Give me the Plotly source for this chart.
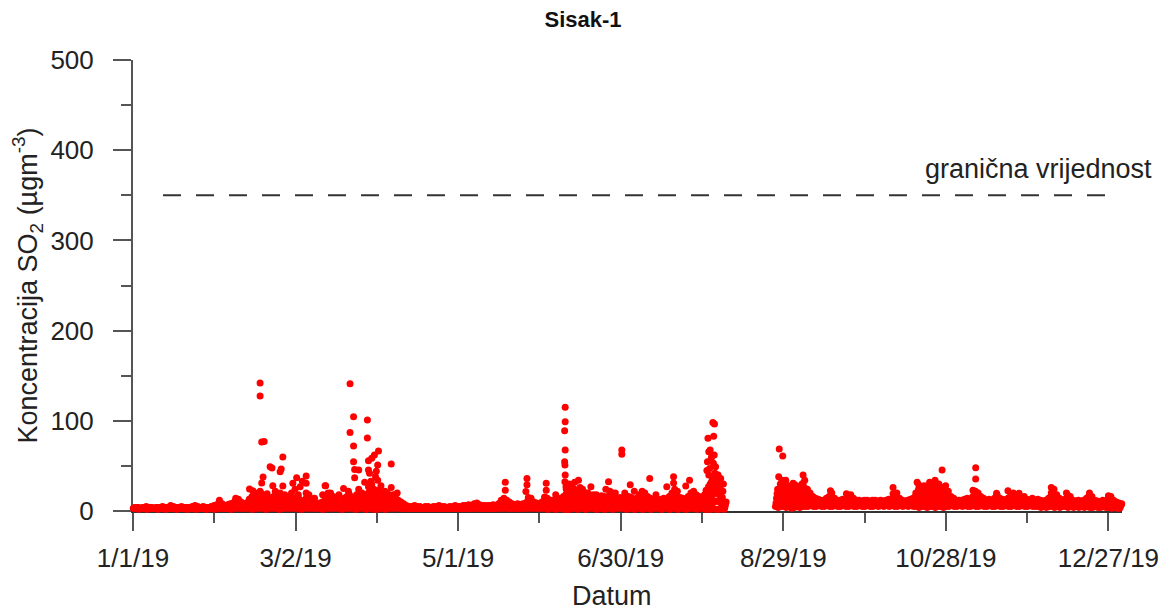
import plotly.graph_objects as go
import pandas as pd

start_date = "2019-01-01"

# daily spread of hourly SO2 values (ug/m3): one entry per day of 2019, None = no data
so2_low = [
    3,3,2,3,3,2,3,3,3,2, 3,3,2,3,3,3,2,3,3,3, 2,3,3,2,3,3,3,2,3,3, 2,
    3,3,3,3,3,2,3,3,3,3, 3,3,3,2,3,3,3,3,2,3, 3,3,3,2,3,3,3,3,
    3,3,3,2,3,3,3,3,3,3, 3,2,3,3,3,3,3,3,2,3, 3,3,3,2,3,3,3,2,3,3, 2,
    2,3,3,2,3,3,3,3,3,3, 3,3,3,3,3,3,3,3,3,3, 3,3,3,3,3,3,3,3,3,3,
    3,3,3,3,3,3,3,3,3,3, 3,3,3,3,3,3,3,3,3,3, 3,3,3,3,3,3,3,3,3,3, 3,
    3,3,2,3,3,2,3,3,2,2, 2,3,3,2,3,3,2,3,3,3, 2,3,3,2,3,3,2,3,3,3,
    3,2,3,3,2,3,3,2,3,3, 2,3,3,3,2,3,3,2,3,3, 2,3,3,2,3,3,3,2,3,3, 2,
    2,2,3,2,2,3,2, None,None,None,None,None,None,None,None,None,None,None,None,None,None,None,None,None,None, 5,4,5,5,4,5,
    3,4,5,4,5,5,5,6,5,5, 6,5,5,6,5,5,6,5,5,6, 5,5,6,5,5,6,5,5,6,5,
    5,6,5,6,5,6,5,6,5,5, 6,5,6,5,6,5,5,4,5,5, 4,5,5,4,5,5,4,5,5,6, 5,
    5,6,5,6,5,5,6,5,5,6, 5,5,6,5,5,6,5,5,6,5, 5,6,5,5,6,5,5,6,5,5,
    5,4,5,4,5,5,4,5,4,5, 5,4,5,4,5,4,5,4,5,4, 4,5,4,4,5,4,4,3,4,3, 3,
]
so2_lower = [
    3,3,3,3,3,3,3,3,3,3, 3,3,3,3,3,3,3,3,3,3, 3,3,3,3,3,3,3,3,3,3, 3,
    4,3,3,3,3,4,5,5,4,3, 4,5,5,6,6,7,6,5,4,5, 5,4,5,5,4,5,5,4,
    5,5,4,4,5,6,5,4,3,4, 4,4,5,6,5,4,4,4,5,5, 6,5,5,5,5,5,6,6,7,7, 7,
    7,6,6,6,5,5,6,4,4,3, 3,3,3,3,3,3,3,3,3,3, 3,3,3,3,3,3,3,3,3,3,
    3,3,3,3,3,3,4,3,3,3, 3,3,3,3,3,4,5,4,4,3, 3,3,3,3,4,5,5,4,4,3, 4,
    5,5,4,4,4,4,5,5,7,8, 8,7,6,7,7,6,6,5,6,5, 5,6,5,5,6,6,5,5,5,5,
    5,5,5,4,5,6,7,6,5,5, 4,5,4,4,5,4,5,6,7,7, 5,5,4,5,6,7,6,5,5,6, 6,
    7,9,10,11,10,8,3, None,None,None,None,None,None,None,None,None,None,None,None,None,None,None,None,None,None, 9,10,11,11,9,9,
    9,9,9,10,11,8,8,7,7,7, 7,6,7,8,8,7,7,6,7,7, 7,7,7,6,6,7,6,6,7,6,
    6,7,6,7,6,7,6,7,8,7, 7,6,7,7,7,8,9,9,8,9, 10,10,11,10,10,9,10,9,7,7, 6,
    6,7,6,7,6,7,9,8,7,7, 6,6,7,7,7,7,6,6,7,7, 8,8,7,6,8,6,6,7,6,6,
    6,5,6,6,8,9,7,7,6,6, 7,6,6,5,6,5,6,6,7,6, 6,6,5,6,6,6,7,6,5,4, 4,
]
so2_mid = [
    3,3,3,3,3,3,3,3,3,3, 3,3,3,4,3,3,3,3,3,3, 3,3,4,3,3,3,3,3,3,3, 4,
    5,4,3,4,4,5,7,7,5,4, 5,7,8,9,10,11,9,8,6,7, 8,6,7,8,6,7,8,6,
    7,8,6,5,7,9,7,5,4,5, 5,6,8,10,8,6,5,6,7,8, 9,8,7,8,7,7,9,10,11,12, 11,
    11,10,9,10,8,7,9,6,5,4, 3,3,3,3,3,3,3,3,3,3, 3,3,3,3,3,3,3,3,3,3,
    3,3,3,4,3,4,5,4,3,3, 3,3,4,3,4,6,7,6,5,4, 4,4,4,4,5,7,7,5,5,4, 5,
    7,7,6,6,6,6,7,8,12,14, 13,12,10,11,12,9,10,8,9,7, 8,9,8,7,9,10,8,7,8,7,
    7,8,7,6,7,9,11,10,8,7, 6,7,6,6,7,6,8,10,12,11, 7,7,6,8,10,11,9,8,7,9, 10,
    13,16,19,20,18,15,5, None,None,None,None,None,None,None,None,None,None,None,None,None,None,None,None,None,None, 14,16,17,18,15,14,
    15,14,13,15,17,12,11,10,9,9, 8,8,9,10,11,9,8,8,9,8, 9,10,9,8,8,8,8,8,8,8,
    8,8,8,8,8,9,8,9,11,9, 8,8,8,9,9,12,14,13,11,13, 15,16,17,16,15,14,16,13,10,9, 8,
    8,8,8,9,8,10,12,11,10,9, 8,8,8,9,10,9,8,8,9,10, 11,10,9,8,10,8,8,9,8,8,
    8,7,8,9,11,13,10,9,8,8, 10,9,8,7,8,7,8,9,10,9, 8,7,7,8,7,8,9,8,7,6, 6,
]
so2_upper = [
    4,4,3,4,4,4,4,3,4,4, 4,4,4,5,4,4,4,4,4,4, 4,4,5,4,4,4,4,4,4,5, 5,
    9,6,5,6,6,7,11,10,8,6, 7,10,12,14,15,17,14,12,9,11, 12,9,10,12,9,11,12,9,
    11,12,9,8,11,14,10,8,6,7, 8,9,13,15,12,9,8,9,11,12, 14,12,11,12,10,11,14,15,17,18, 17,
    17,15,14,15,12,11,14,9,8,6, 5,4,4,5,4,4,4,4,4,4, 4,4,5,4,4,4,4,4,5,4,
    4,5,5,5,5,6,7,5,5,5, 5,5,5,5,6,9,10,9,8,6, 5,6,5,6,7,11,10,8,7,6, 8,
    11,10,9,9,8,9,10,12,18,21, 20,18,15,16,18,13,15,12,13,10, 11,13,12,10,13,15,12,10,11,10,
    10,12,11,10,10,13,16,15,12,10, 10,10,9,10,10,9,12,15,18,16, 11,10,10,12,15,16,13,12,10,13, 15,
    20,24,28,30,27,22,8, None,None,None,None,None,None,None,None,None,None,None,None,None,None,None,None,None,None, 19,23,25,26,22,20,
    23,21,20,23,26,18,16,13,12,11, 10,10,12,13,16,12,10,10,11,10, 12,14,12,10,10,10,10,10,10,10,
    10,10,10,10,10,11,10,13,16,12, 10,10,10,11,12,16,19,18,15,18, 21,22,24,22,21,19,22,18,13,12, 10,
    10,10,11,12,10,13,17,16,13,12, 10,11,10,12,14,12,11,10,12,14, 16,13,12,10,13,11,10,12,10,11,
    10,9,10,12,16,19,14,12,10,11, 14,13,10,9,10,9,10,12,14,13, 10,9,9,10,9,12,13,10,9,8, 7,
]
so2_high = [
    4,4,3,4,5,4,4,3,4,4, 5,4,4,6,5,4,4,5,4,4, 4,5,6,5,4,5,4,4,5,6, 7,
    12,8,6,7,8,9,14,13,10,8, 9,13,16,18,20,22,18,15,12,14, 16,12,13,15,12,14,16,12,
    14,16,12,10,14,18,13,10,8,9, 10,12,17,20,16,12,10,11,14,16, 18,15,14,16,13,14,18,20,22,24, 22,
    22,20,18,20,16,14,18,12,10,8, 6,5,5,6,5,5,4,5,5,4, 5,5,6,5,5,4,5,5,6,5,
    5,6,6,7,6,8,9,7,6,6, 6,6,7,6,8,12,14,12,10,8, 7,8,7,8,9,15,14,10,9,8, 10,
    15,14,12,12,11,12,14,16,24,28, 26,24,20,22,24,18,20,16,18,14, 15,17,16,14,18,20,16,14,15,13,
    14,16,15,13,14,18,22,20,16,14, 13,14,12,13,14,12,16,20,24,22, 15,14,13,16,20,22,18,16,14,18, 20,
    26,32,38,40,36,30,10, None,None,None,None,None,None,None,None,None,None,None,None,None,None,None,None,None,None, 24,30,32,34,28,26,
    30,28,26,30,34,24,20,16,14,13, 12,12,14,16,20,14,12,12,13,12, 14,18,14,12,12,11,12,12,11,12,
    12,11,12,11,12,13,12,16,20,14, 12,11,12,13,14,20,24,22,18,22, 26,28,30,28,26,24,28,22,16,14, 12,
    12,12,13,14,12,16,22,20,16,14, 12,13,12,14,18,14,13,12,14,18, 20,16,14,12,16,13,12,14,12,13,
    12,11,12,14,20,24,18,14,12,13, 18,16,12,11,12,11,12,14,18,16, 12,11,10,12,11,14,16,12,10,9, 8,
]

# individual higher hourly values: day offset from 1 Jan 2019, concentration
peak_day = [
    43.0, 44.2, 46.9, 46.9, 47.5, 48.4, 47.5, 48.0, 47.2, 50.6, 51.3, 51.6, 50.8, 54.7, 54.3,
    55.3, 55.3, 54.3, 53.5, 59.0, 60.4, 59.8, 61.7, 63.9, 63.9, 63.9, 62.5, 45.5, 49.5, 52.5,
    56.0, 57.5, 58.5, 61.0, 65.0, 67.0, 71.1, 70.0, 72.0,
    80.1, 81.4, 86.5, 80.1, 86.5, 81.4, 90.6, 89.1, 88.1, 86.9, 81.4, 95.3, 90.3, 81.8, 83.3,
    86.9, 87.3, 81.8, 90.3, 88.1, 86.9, 70.9, 77.7, 83.3, 95.3, 90.6, 88.8, 79.5, 84.5, 85.5,
    89.5, 91.5, 93.0, 96.0, 97.5, 76.0, 74.5, 82.5, 87.8, 89.8,
    137.4, 137.4, 137.0, 145.4, 145.4, 145.0, 152.5, 152.5, 152.0,
    159.5, 159.5, 159.3, 159.5, 159.3, 159.4, 159.5, 159.4, 159.8, 160.2, 164.4, 161.0, 162.0,
    163.0, 160.5, 161.5, 162.5, 163.5, 165.0, 166.0, 169.0, 175.5, 174.5, 176.0, 180.4, 180.4,
    183.5, 181.5, 187.5, 190.7, 197.0, 199.5, 199.5, 204.0, 205.4, 156.0, 167.5, 171.0, 178.0,
    185.0, 193.0,
    214.0, 214.6, 212.2, 214.3, 213.0, 212.5, 214.5, 213.5, 212.0, 213.3, 215.0, 214.2, 211.8,
    212.5, 214.7, 213.5, 212.4, 215.5, 211.5, 213.8, 215.2, 212.8, 216.0, 217.0, 214.0, 215.8,
    213.0,
    238.5, 239.8, 238.3, 239.5, 247.3, 247.3, 243.6, 241.0, 244.5, 246.0, 257.4, 263.3, 280.5,
    280.5, 289.4, 290.0, 298.6, 297.4, 294.0, 296.0, 292.0, 299.5, 311.0, 311.0, 310.0, 318.7,
    322.9, 327.0, 338.9, 344.5, 353.0, 360.0, 249.0, 242.5, 240.5,
]
peak_val = [
    24.4, 22.5, 142, 127.5, 76.5, 77, 31, 37.6, 20, 49, 47.6, 28, 14.4, 46.5, 43.6,
    60, 27.7, 20, 17, 30.7, 37, 24, 27, 38.8, 30.7, 20, 33, 18, 19, 22,
    18, 16, 20, 18, 16, 14, 28, 18, 20,
    141, 104.6, 101, 87, 81, 72, 66.5, 62, 58.4, 55.8, 54.7, 52, 51, 46, 45.5,
    45.5, 41.8, 37, 34, 29.6, 27, 28, 25, 24, 26, 23, 21, 22, 20, 32,
    38, 28, 22, 18, 20, 18, 15, 18, 33, 44,
    31.8, 23, 12, 36, 29, 21.5, 30.7, 23, 15.5,
    115, 99, 89, 67.6, 54.7, 51, 40, 32.5, 27, 25, 34, 30, 28,
    32, 20, 22, 24, 20, 26, 22, 27, 32.5, 24, 22, 67.6, 63,
    29, 20, 16, 36, 27, 38, 31, 27.7, 34, 18, 20, 18, 20,
    22, 18,
    98, 96.5, 80.6, 83, 67.6, 65.8, 62, 60, 54.7, 56.5, 49, 53, 45,
    40, 41.8, 32.5, 27, 27, 23, 36, 34, 47, 20, 16, 22, 40,
    30,
    68.7, 61, 38, 34, 40, 30.7, 30.7, 24, 26, 22, 22.5, 19, 26,
    19, 31.8, 29, 45.5, 30, 32, 34, 28, 27, 48, 35.5, 23, 19.6,
    22.5, 19.6, 26, 20, 20, 17, 20, 20, 28,
]

limit_value = 350
limit_label = "granična vrijednost"
x_tick_labels = ["1/1/19", "3/2/19", "5/1/19", "6/30/19", "8/29/19", "10/28/19", "12/27/19"]
x_tick_days = [0, 60, 120, 180, 240, 300, 360]
x_minor_days = [30, 90, 150, 210, 270, 330]
y_ticks = [0, 100, 200, 300, 400, 500]
y_minor = [50, 150, 250, 350, 450]

t0 = pd.Timestamp(start_date)


def day_to_date(d):
    return t0 + pd.Timedelta(days=d)


xs, ys = [], []
daily = zip(so2_low, so2_lower, so2_mid, so2_upper, so2_high)
for i, vals in enumerate(daily):
    for off, v in zip((0.1, 0.3, 0.5, 0.7, 0.9), vals):
        if v is not None:
            xs.append(day_to_date(i + off))
            ys.append(v)
for d, v in zip(peak_day, peak_val):
    xs.append(day_to_date(d))
    ys.append(v)

FONT = "Liberation Sans, Arial, sans-serif"
TXT = "#222222"
PAGE_PAD = 8  # default body margin of the html page
W, H = 1169 - PAGE_PAD, 614 - PAGE_PAD

fig = go.Figure()
fig.add_trace(go.Scatter(
    x=xs, y=ys, mode="markers",
    marker=dict(color="#FF0000", size=7, line=dict(width=0)),
    cliponaxis=False, showlegend=False, hoverinfo="x+y",
))

fig.add_shape(type="line", xref="paper", yref="y",
              x0=(163 - 133) / 989, x1=(1120 - 133) / 989,
              y0=limit_value, y1=limit_value,
              line=dict(color="#333333", width=2, dash="18px,15px"))

fig.add_annotation(text=limit_label, xref="paper", yref="y",
                   x=(1154 - 133) / 989, y=379, xanchor="right", yanchor="middle",
                   showarrow=False, font=dict(family=FONT, size=27, color=TXT))

fig.add_annotation(text="Koncentracija SO<sub>2</sub> (µgm<sup>-3</sup>)",
                   xref="paper", yref="paper", x=(27 - 133) / 989, y=0.5,
                   xanchor="center", yanchor="middle", textangle=-90, showarrow=False,
                   font=dict(family=FONT, size=27, color=TXT))

fig.add_annotation(text="Datum", xref="paper", yref="paper",
                   x=(612 - 133) / 989, y=(511 - 596) / 451,
                   xanchor="center", yanchor="middle", showarrow=False,
                   font=dict(family=FONT, size=27, color=TXT))

fig.update_layout(
    width=W, height=H,
    margin=dict(l=133 - PAGE_PAD, r=47, t=60 - PAGE_PAD, b=103, autoexpand=False),
    paper_bgcolor="white", plot_bgcolor="white",
    font=dict(family=FONT, size=26, color=TXT),
    title=dict(text="<b>Sisak-1</b>", x=(583 - PAGE_PAD) / W, xanchor="center",
               y=1 - 11 / H, yanchor="middle",
               font=dict(family=FONT, size=22, color="#111111")),
    xaxis=dict(
        type="date", automargin=False,
        range=[day_to_date(0), day_to_date(365)],
        tickvals=[day_to_date(d) for d in x_tick_days],
        ticktext=x_tick_labels,
        ticks="outside", ticklen=18, tickwidth=2, tickcolor="#555555",
        minor=dict(tickvals=[day_to_date(d) for d in x_minor_days],
                   ticks="outside", ticklen=10, tickwidth=2, tickcolor="#555555"),
        showline=True, linecolor="#333333", linewidth=1.5,
        showgrid=False, zeroline=False, layer="below traces",
        ticklabelstandoff=5,
    ),
    yaxis=dict(
        range=[0, 500], automargin=False,
        tickvals=y_ticks,
        ticks="outside", ticklen=18, tickwidth=2, tickcolor="#555555",
        minor=dict(tickvals=y_minor, ticks="outside", ticklen=10,
                   tickwidth=2, tickcolor="#555555"),
        showline=True, linecolor="#555555", linewidth=2,
        showgrid=False, zeroline=False, layer="below traces",
        ticklabelstandoff=14,
    ),
)

fig.write_html("out.html")
